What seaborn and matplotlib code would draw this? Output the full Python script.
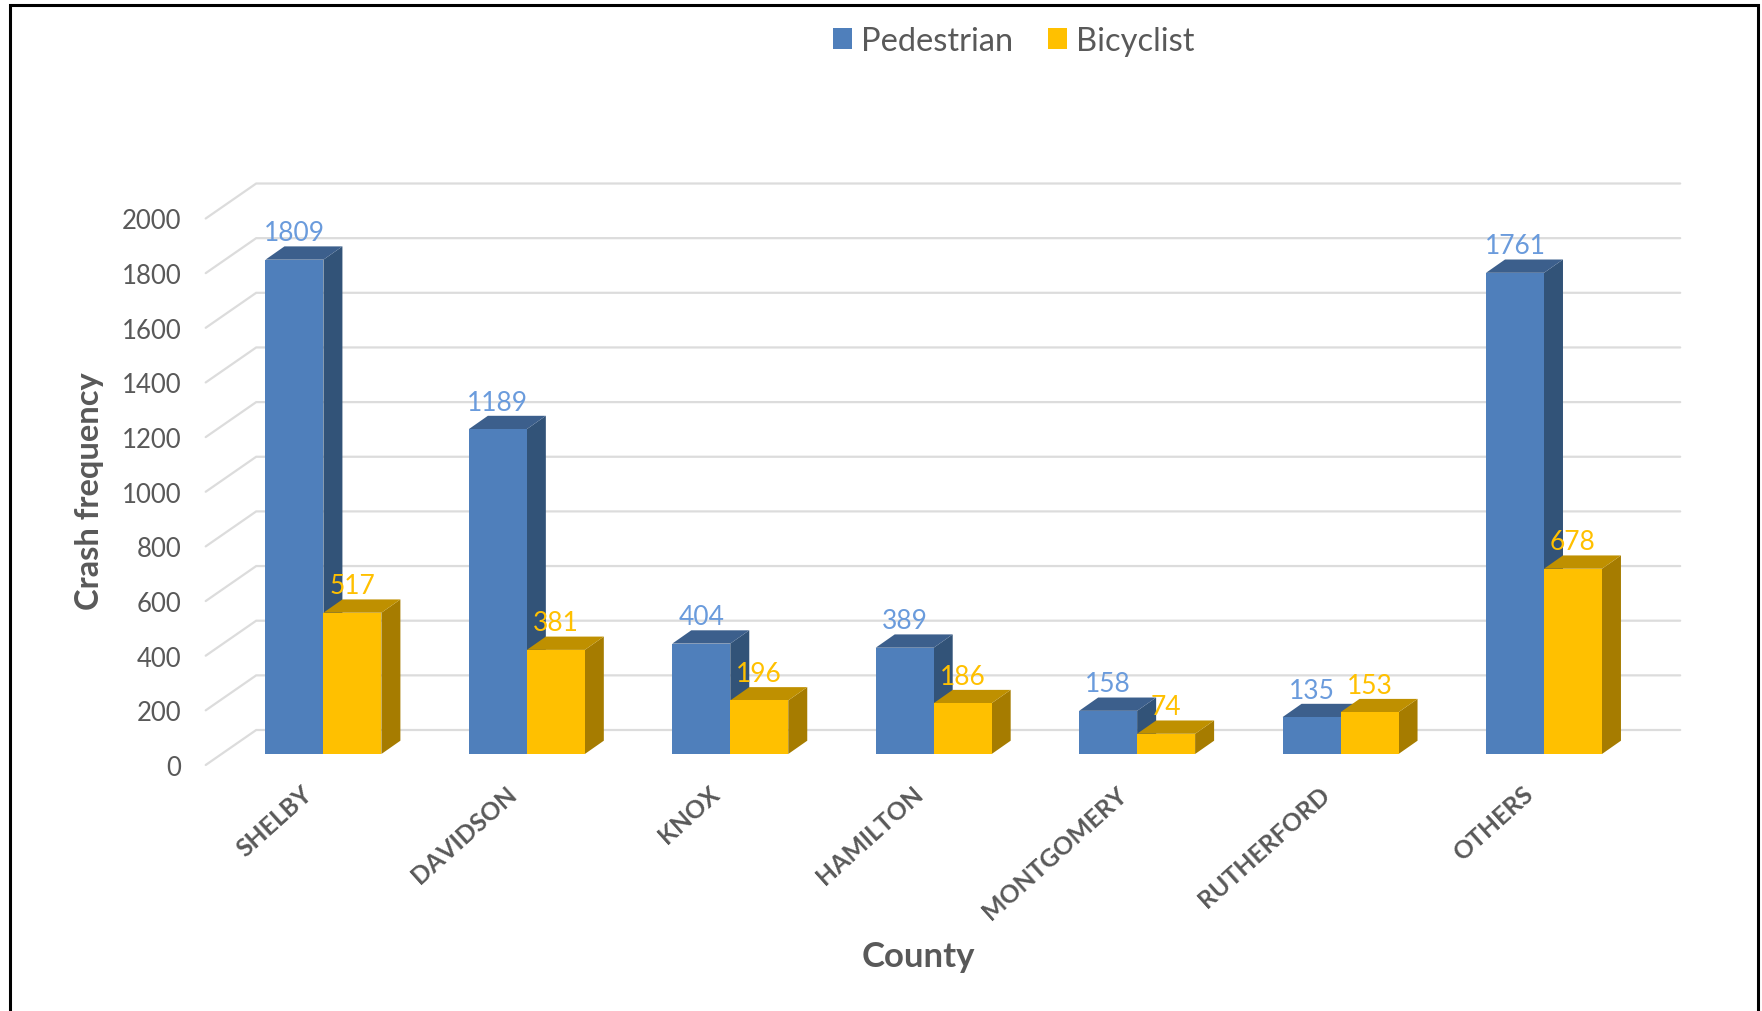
import matplotlib
matplotlib.use("Agg")
import matplotlib.pyplot as plt
from matplotlib.lines import Line2D
from matplotlib.patches import Polygon
from matplotlib.transforms import Affine2D
import pandas as pd
import seaborn as sns

counties = ["SHELBY", "DAVIDSON", "KNOX", "HAMILTON", "MONTGOMERY", "RUTHERFORD", "OTHERS"]
pedestrian = [1809, 1189, 404, 389, 158, 135, 1761]
bicyclist = [517, 381, 196, 186, 74, 153, 678]
y_ticks = [0, 200, 400, 600, 800, 1000, 1200, 1400, 1600, 1800, 2000]

W, H = 1762, 1012
sns.set_theme(style="white")
plt.rcParams["font.family"] = ["Lato", "DejaVu Sans"]

df = pd.DataFrame({
    "County": counties * 2,
    "Crashes": pedestrian + bicyclist,
    "Mode": ["Pedestrian"] * 7 + ["Bicyclist"] * 7,
})

fig = plt.figure(figsize=(W / 100, H / 100), dpi=100, facecolor="white")
L, R, T, B = 221.7, 1645.7, 208.5, 755.0
ax = fig.add_axes([L / W, 1 - B / H, (R - L) / W, (B - T) / H])

FRONT = {"Pedestrian": "#4F7FBB", "Bicyclist": "#FFC000"}
SIDE = ["#325378", "#A67C00"]
TOP = ["#3C5F8C", "#BF9000"]
LABEL = ["#6A9BDC", "#FFC000"]
TEXT = "#595959"

sns.barplot(data=df, x="County", y="Crashes", hue="Mode", order=counties,
            hue_order=["Pedestrian", "Bicyclist"], palette=FRONT, width=0.57,
            gap=0, saturation=1, linewidth=0, ax=ax)
ax.set_xlim(-0.5, 6.5)
ax.set_ylim(0, 2000)


def px_x(p):
    return p * 7 / (R - L)


def px_y(p):
    return p * 2000 / (B - T)


# Floor/wall gridlines in faux perspective
for v in y_ticks:
    x0, y0 = -0.5 - px_x(16), v - px_y(11)
    x1, y1 = -0.5 + px_x(34.5), v + px_y(24)
    x2 = 6.5 + px_x(34.5)
    ax.plot([x0, x1, x2], [y0, y1, y1], color="#DCDCDC", lw=1.6, clip_on=False,
            zorder=1, solid_joinstyle="miter")

# Side and top faces derived from the seaborn bars
ddx, ddy = px_x(19), px_y(13.3)
for s, container in enumerate(ax.containers):
    for bar in container:
        x, w, h = bar.get_x(), bar.get_width(), bar.get_height()
        base = 3 + s * 3
        bar.set_zorder(base + 2)
        ax.add_patch(Polygon([(x + w, 0), (x + w + ddx, ddy), (x + w + ddx, h + ddy), (x + w, h)],
                             closed=True, fc=SIDE[s], ec="none", zorder=base, clip_on=False))
        ax.add_patch(Polygon([(x, h), (x + w, h), (x + w + ddx, h + ddy), (x + ddx, h + ddy)],
                             closed=True, fc=TOP[s], ec="none", zorder=base + 1, clip_on=False))
        ax.text(x + w / 2, h + px_y(27), f"{int(h)}", color=LABEL[s], fontsize=19,
                ha="center", va="center", zorder=12, clip_on=False)

# Axes furniture
sns.despine(ax=ax, left=True, bottom=True, top=True, right=True)
ax.grid(False)
ax.patch.set_alpha(0)
ax.set_yticks(y_ticks)
ax.tick_params(axis="y", length=0, pad=29, labelsize=18.5, labelcolor=TEXT)
ax.tick_params(axis="x", length=0, pad=26, labelsize=17.8, labelcolor=TEXT)
for lab in ax.get_yticklabels():
    lab.set_transform(lab.get_transform() + Affine2D().translate(0, -11))
ax.set_xticks(range(len(counties)))
ax.set_xticklabels(counties, rotation=42, ha="right", va="center",
                   rotation_mode="anchor", fontweight="bold")
for lab in ax.get_xticklabels():
    lab.set_transform(lab.get_transform() + Affine2D().translate(-14, 0))

ax.set_ylabel("Crash frequency", fontsize=23.5, fontweight="bold", color=TEXT, va="center")
ax.yaxis.set_label_coords(90 / W, 1 - 491 / H, transform=fig.transFigure)
ax.set_xlabel("County", fontsize=25, fontweight="bold", color=TEXT)
ax.xaxis.set_label_coords(918 / W, 1 - 957 / H, transform=fig.transFigure)
ax.xaxis.label.set_va("center")

handles, labels = ax.get_legend_handles_labels()
ax.legend(handles, labels, loc="center", bbox_to_anchor=(1013.5 / W, 1 - 42 / H),
          bbox_transform=fig.transFigure, ncols=2, frameon=False, fontsize=23.5,
          labelcolor=TEXT, handlelength=0.58, handleheight=0.58, handletextpad=0.28,
          columnspacing=1.07, borderpad=0)

# Outer frame: left, top and right only
fig.add_artist(Line2D([10 / W, 10 / W, 1758 / W, 1758 / W],
                      [0, 1 - 5.5 / H, 1 - 5.5 / H, 0],
                      color="black", lw=2.2, solid_joinstyle="miter"))

fig.savefig("out.png", dpi=100, facecolor="white")
